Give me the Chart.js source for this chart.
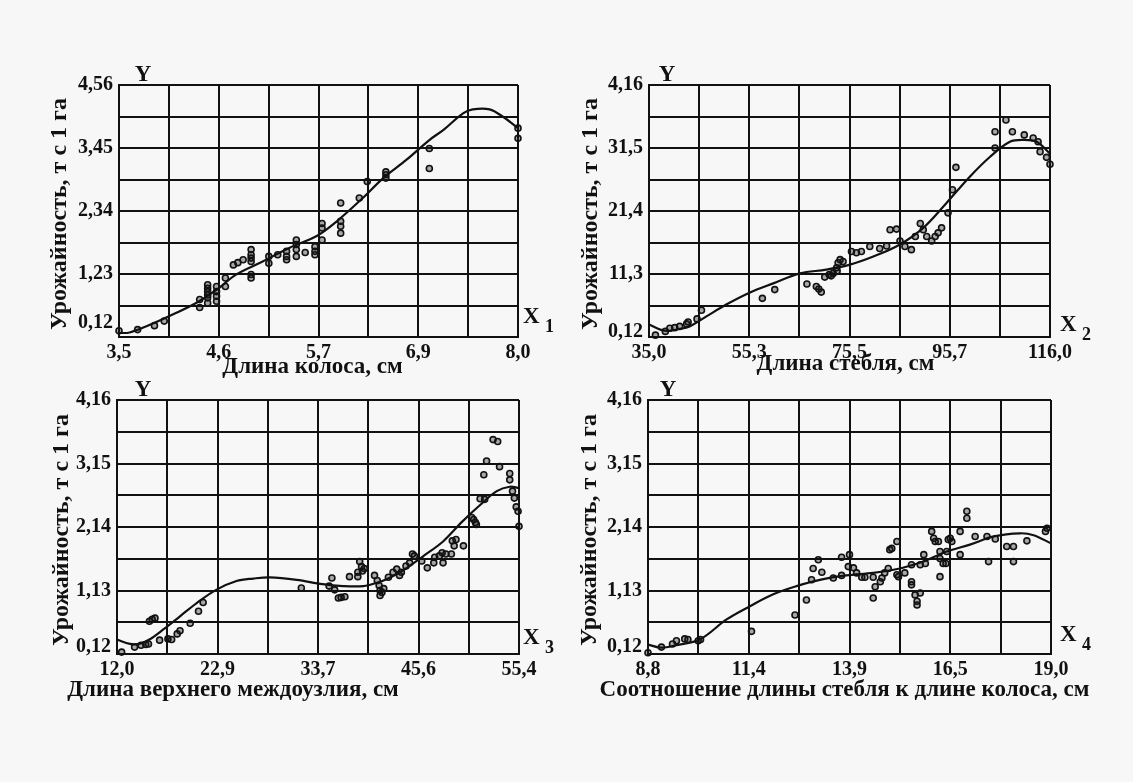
<!DOCTYPE html>
<html>
<head>
<meta charset="utf-8">
<script src="https://cdn.jsdelivr.net/npm/chart.js@4/dist/chart.umd.min.js"></script>
<style>
  html, body { margin: 0; padding: 0; background: #f7f7f7; }
  body { width: 1133px; height: 782px; position: relative; overflow: hidden; }
  canvas { position: absolute; }
</style>
</head>
<body>
<canvas id="c1" width="566" height="330" style="left:0px;top:60px"></canvas>
<canvas id="c2" width="567" height="330" style="left:566px;top:60px"></canvas>
<canvas id="c3" width="566" height="330" style="left:0px;top:375px"></canvas>
<canvas id="c4" width="567" height="330" style="left:566px;top:375px"></canvas>
<script>
const FONT = "'Liberation Serif', 'DejaVu Serif', serif";
const INK = '#111';

const yTitle = 'Урожайность, т с 1 га';

// ---- X1: длина колоса
const p1XLabels = ['3,5', '', '4,6', '', '5,7', '', '6,9', '', '8,0'];
const p1YLabels = ['0,12', '', '1,23', '', '2,34', '', '3,45', '', '4,56'];
const p1PointX = [3.50, 3.71, 3.90, 4.01, 4.41, 4.41, 4.50, 4.50, 4.50, 4.50, 4.50, 4.50, 4.60, 4.60, 4.60, 4.60,
  4.70, 4.70, 4.79, 4.84, 4.90, 4.99, 4.99, 4.99, 4.99, 4.99, 4.99, 5.19, 5.19, 5.29, 5.39, 5.39, 5.39,
  5.50, 5.50, 5.50, 5.50, 5.60, 5.71, 5.71, 5.71, 5.79, 5.79, 5.79, 6.00, 6.00, 6.00, 6.00, 6.21, 6.30,
  6.51, 6.51, 6.51, 7.00, 7.00, 8.00, 8.00];
const p1PointY = [0.23, 0.25, 0.32, 0.40, 0.64, 0.78, 1.04, 0.98, 0.92, 0.86, 0.81, 0.72, 1.01, 0.92, 0.84, 0.75,
  1.16, 1.01, 1.39, 1.43, 1.48, 1.66, 1.57, 1.51, 1.45, 1.22, 1.16, 1.54, 1.42, 1.57, 1.63, 1.54, 1.48,
  1.83, 1.75, 1.66, 1.54, 1.61, 1.71, 1.63, 1.57, 2.12, 2.04, 1.83, 2.48, 2.16, 2.07, 1.95, 2.57, 2.86,
  3.03, 2.98, 2.92, 3.44, 3.09, 3.80, 3.62];
const p1CurveX = [3.5, 3.62, 3.81, 4.07, 4.37, 4.60, 4.82, 5.12, 5.42, 5.73, 5.95, 6.25, 6.48, 6.74, 7.0, 7.16, 7.38, 7.49, 7.68, 7.83, 8.0];
const p1CurveY = [0.19, 0.20, 0.31, 0.49, 0.72, 0.95, 1.22, 1.45, 1.69, 1.90, 2.15, 2.57, 2.92, 3.24, 3.59, 3.77, 4.06, 4.13, 4.13, 4.00, 3.80];

// ---- X2: длина стебля
const p2XLabels = ['35,0', '', '55,3', '', '75,5', '', '95,7', '', '116,0'];
const p2YLabels = ['0,12', '', '11,3', '', '21,4', '', '31,5', '', '4,16'];
const p2PointX = [36.3, 38.3, 39.2, 40.2, 41.2, 42.6, 42.9, 44.7, 45.6, 57.9, 60.4, 66.9, 68.8, 69.3, 69.8,
  70.5, 71.4, 72.2, 72.9, 73.2, 73.6, 74.2, 73.0, 71.8, 75.9, 76.9, 77.9, 79.6, 81.6, 83.0, 83.7, 85.0, 85.7, 86.7, 88.0,
  88.8, 89.8, 90.4, 91.1, 92.1, 92.8, 93.4, 94.1, 95.4, 96.3, 97.0,
  104.9, 104.9, 107.1, 108.4, 110.8, 112.6, 113.6, 114.0, 115.3, 116.0];
const p2PointY = [0.15, 0.21, 0.26, 0.27, 0.29, 0.33, 0.36, 0.41, 0.55, 0.74, 0.88, 0.97, 0.93, 0.89, 0.84,
  1.08, 1.12, 1.14, 1.23, 1.31, 1.36, 1.33, 1.18, 1.10, 1.49, 1.47, 1.49, 1.57, 1.54, 1.58, 1.84, 1.85, 1.66, 1.57, 1.52,
  1.73, 1.94, 1.84, 1.73, 1.66, 1.73, 1.79, 1.87, 2.11, 2.48, 2.84,
  3.41, 3.15, 3.60, 3.41, 3.36, 3.31, 3.25, 3.09, 3.00, 2.89];
const p2CurveX = [35, 38.2, 41.2, 43.2, 46.6, 50.6, 55.3, 60.1, 65.5, 70.8, 75.6, 80.3, 85.6, 90.4, 95.1, 99.8, 103.9, 107.9, 110.6, 113.3, 116];
const p2CurveY = [0.32, 0.22, 0.25, 0.29, 0.45, 0.64, 0.83, 0.98, 1.14, 1.20, 1.28, 1.41, 1.60, 1.87, 2.27, 2.69, 3.01, 3.25, 3.28, 3.25, 3.06];

// ---- X3: длина верхнего междоузлия
const p3XLabels = ['12,0', '', '22,9', '', '33,7', '', '45,6', '', '55,4'];
const p3YLabels = ['0,12', '', '1,13', '', '2,14', '', '3,15', '', '4,16'];
const p3PointX = [12.5, 13.9, 14.6, 15.1, 15.4, 15.5, 15.8, 16.1, 16.6, 17.5, 17.9, 18.5, 18.8, 19.9, 20.8, 21.3,
  31.9, 34.9, 35.2, 35.5, 35.9, 36.2, 36.6, 37.1, 38.0, 38.2, 38.4, 38.7, 38.0, 38.5, 39.8, 40.1, 40.3, 40.4, 40.6,
  40.4, 40.8, 41.3, 41.8, 42.2, 42.5, 42.7, 43.2, 43.6, 43.9, 44.1, 44.9, 45.5, 46.2, 46.3, 46.8, 47.2, 47.1, 47.5,
  48.1, 48.4, 48.2, 48.6, 49.4, 50.3, 50.7, 50.8, 50.5, 51.2, 51.7, 51.6, 51.9, 52.6, 53.1, 53.3, 54.4, 54.4, 54.7,
  54.9, 55.1, 55.3, 55.4];
const p3PointY = [0.15, 0.23, 0.26, 0.27, 0.28, 0.64, 0.67, 0.69, 0.34, 0.36, 0.35, 0.44, 0.49, 0.61, 0.80, 0.94,
  1.17, 1.20, 1.33, 1.14, 1.01, 1.02, 1.03, 1.35, 1.35, 1.59, 1.51, 1.48, 1.42, 1.44, 1.37, 1.29, 1.21, 1.13, 1.10,
  1.05, 1.16, 1.34, 1.42, 1.47, 1.37, 1.42, 1.52, 1.57, 1.71, 1.68, 1.60, 1.49, 1.57, 1.66, 1.68, 1.57, 1.73, 1.71,
  1.71, 1.84, 1.92, 1.94, 1.84, 2.29, 2.21, 2.18, 2.26, 2.59, 2.58, 2.97, 3.19, 3.53, 3.50, 3.10, 2.99, 2.89, 2.71,
  2.60, 2.46, 2.39, 2.15];
const p3CurveX = [12.0, 13.4, 14.4, 15.5, 17.0, 18.8, 20.6, 22.7, 24.9, 26.7, 28.5, 31.4, 34.2, 36.4, 38.6, 40.0, 41.4, 43.2, 45.0, 47.2, 49.3, 51.2, 53.0, 54.4, 55.4];
const p3CurveY = [0.35, 0.28, 0.28, 0.35, 0.51, 0.72, 0.93, 1.14, 1.28, 1.32, 1.34, 1.30, 1.23, 1.20, 1.20, 1.25, 1.33, 1.48, 1.67, 1.91, 2.23, 2.49, 2.71, 2.78, 2.76];

// ---- X4: соотношение длины стебля к длине колоса
const p4XLabels = ['8,8', '', '11,4', '', '13,9', '', '16,5', '', '19,0'];
const p4YLabels = ['0,12', '', '1,13', '', '2,14', '', '3,15', '', '4,16'];
const p4PointX = [8.80, 9.14, 9.42, 9.52, 9.73, 9.81, 10.07, 10.13, 11.42, 12.52, 12.81, 12.94, 12.98, 13.11, 13.20,
  13.49, 13.70, 13.70, 13.90, 13.87, 14.00, 14.08, 14.21, 14.29, 14.50, 14.50, 14.55, 14.68, 14.72, 14.79, 14.88,
  14.92, 14.97, 15.10, 15.10, 15.14, 15.30, 15.47, 15.47, 15.47, 15.56, 15.61, 15.61, 15.69, 15.69, 15.78, 15.82,
  15.98, 16.03, 16.07, 16.15, 16.19, 16.19, 16.19, 16.27, 16.34, 16.36, 16.40, 16.45, 16.49, 16.70, 16.70, 16.87,
  16.87, 17.08, 17.38, 17.42, 17.59, 17.88, 18.05, 18.05, 18.39, 18.86, 18.90];
const p4PointY = [0.14, 0.23, 0.28, 0.33, 0.36, 0.35, 0.33, 0.35, 0.48, 0.74, 0.98, 1.30, 1.48, 1.62, 1.42,
  1.33, 1.37, 1.66, 1.70, 1.51, 1.49, 1.41, 1.34, 1.34, 1.34, 1.01, 1.19, 1.27, 1.33, 1.41, 1.48,
  1.78, 1.80, 1.91, 1.38, 1.35, 1.41, 1.54, 1.27, 1.22, 1.06, 0.96, 0.90, 1.09, 1.54, 1.70, 1.56,
  2.07, 1.96, 1.91, 1.91, 1.64, 1.75, 1.35, 1.56, 1.56, 1.75, 1.94, 1.96, 1.91, 2.07, 1.70, 2.39,
  2.28, 1.99, 1.99, 1.59, 1.95, 1.83, 1.83, 1.59, 1.92, 2.07, 2.12];
const p4CurveX = [8.8, 9.14, 9.52, 10.11, 10.79, 11.38, 11.97, 12.56, 13.15, 13.82, 14.50, 15.18, 15.77, 16.36, 16.95, 17.55, 18.22, 18.56, 19.0];
const p4CurveY = [0.27, 0.22, 0.26, 0.35, 0.67, 0.88, 1.07, 1.20, 1.30, 1.37, 1.41, 1.48, 1.59, 1.75, 1.86, 1.99, 2.04, 2.01, 1.88];

function pairs(xs, ys) {
  return xs.map((x, i) => ({ x: x, y: ys[i] }));
}

function gridValues(min, max) {
  let out = [];
  for (let i = 0; i <= 8; i++) out.push(min + (max - min) * i / 8);
  return out;
}

function makePanel(id, p) {
  const xTicks = gridValues(p.xMin, p.xMax);
  const yTicks = gridValues(p.yMin, p.yMax);
  const tickFont = { family: FONT, size: 20, weight: 'bold' };

  const decor = {
    id: 'decor' + id,
    afterDraw(chart) {
      const a = chart.chartArea;
      const ctx = chart.ctx;
      ctx.save();
      ctx.fillStyle = INK;
      // bottom y label, lifted a little above the corner
      ctx.font = 'bold 20px ' + FONT;
      ctx.textAlign = 'right';
      ctx.textBaseline = 'middle';
      ctx.fillText(p.yLabels[0], a.left - 6, a.bottom - p.bottomLift);
      // Y over the axis
      ctx.font = 'bold 23px ' + FONT;
      ctx.textAlign = 'center';
      ctx.textBaseline = 'middle';
      ctx.fillText('Y', a.left + p.yLetterDx, a.top - 10);
      // X with subscript
      ctx.textAlign = 'left';
      ctx.fillText('X', a.right + p.xLetterDx, a.bottom + p.xLetterDy);
      ctx.font = 'bold 18px ' + FONT;
      ctx.fillText(p.sub, a.right + p.xLetterDx + 22, a.bottom + p.xLetterDy + 10);
      // x title
      ctx.font = 'bold 23px ' + FONT;
      ctx.textAlign = 'center';
      ctx.fillText(p.xTitle, (a.left + a.right) / 2 + p.xTitleDx, a.bottom + p.xTitleDy);
      // y title
      ctx.font = 'bold 24px ' + FONT;
      ctx.translate(a.left + p.yTitleDx, (a.top + a.bottom) / 2 + 3);
      ctx.rotate(-Math.PI / 2);
      ctx.fillText(yTitle, 0, 0);
      ctx.restore();
    }
  };

  return new Chart(document.getElementById(id), {
    type: 'scatter',
    data: {
      datasets: [
        {
          data: pairs(p.curveX, p.curveY),
          showLine: true,
          tension: 0.35,
          borderColor: INK,
          borderWidth: 2.2,
          pointRadius: 0,
          clip: 4
        },
        {
          data: pairs(p.pointX, p.pointY),
          pointRadius: 3,
          borderColor: INK,
          borderWidth: 1.6,
          backgroundColor: 'rgba(20,20,20,0.35)',
          clip: 8
        }
      ]
    },
    options: {
      responsive: false,
      animation: false,
      events: [],
      layout: { padding: { top: p.padTop, right: p.padRight, left: 0, bottom: 0 } },
      plugins: { legend: { display: false }, tooltip: { enabled: false } },
      scales: {
        x: {
          type: 'linear',
          min: p.xMin,
          max: p.xMax,
          afterBuildTicks: s => { s.ticks = xTicks.map(v => ({ value: v })); },
          afterFit: s => { s.height = p.xHeight; },
          grid: { color: INK, lineWidth: 2, drawTicks: false },
          border: { color: INK, width: 2 },
          ticks: {
            autoSkip: false, maxRotation: 0, padding: 4, color: INK, font: tickFont,
            callback: (v, i) => p.xLabels[i]
          }
        },
        y: {
          type: 'linear',
          min: p.yMin,
          max: p.yMax,
          afterBuildTicks: s => { s.ticks = yTicks.map(v => ({ value: v })); },
          afterFit: s => { s.width = p.yWidth; },
          grid: { color: INK, lineWidth: 2, drawTicks: false },
          border: { color: INK, width: 2 },
          ticks: {
            autoSkip: false, padding: 6, color: INK, font: tickFont,
            callback: (v, i) => (i === 0 ? '' : p.yLabels[i])
          }
        }
      }
    },
    plugins: [decor]
  });
}

makePanel('c1', {
  xMin: 3.5, xMax: 8.0, yMin: 0.12, yMax: 4.56,
  xLabels: p1XLabels, yLabels: p1YLabels,
  pointX: p1PointX, pointY: p1PointY, curveX: p1CurveX, curveY: p1CurveY,
  yWidth: 119, padTop: 25, padRight: 48, xHeight: 53,
  xTitle: 'Длина колоса, см', xTitleDx: -6, xTitleDy: 30,
  yTitleDx: -59, yLetterDx: 24, xLetterDx: 5, xLetterDy: -20, sub: '1', bottomLift: 14
});

makePanel('c2', {
  xMin: 35.0, xMax: 116.0, yMin: 0.12, yMax: 4.16,
  xLabels: p2XLabels, yLabels: p2YLabels,
  pointX: p2PointX, pointY: p2PointY, curveX: p2CurveX, curveY: p2CurveY,
  yWidth: 83, padTop: 25, padRight: 83, xHeight: 53,
  xTitle: 'Длина стебля, см', xTitleDx: -4, xTitleDy: 27,
  yTitleDx: -58, yLetterDx: 18, xLetterDx: 10, xLetterDy: -12, sub: '2', bottomLift: 5
});

makePanel('c3', {
  xMin: 12.0, xMax: 55.4, yMin: 0.12, yMax: 4.16,
  xLabels: p3XLabels, yLabels: p3YLabels,
  pointX: p3PointX, pointY: p3PointY, curveX: p3CurveX, curveY: p3CurveY,
  yWidth: 117, padTop: 25, padRight: 47, xHeight: 51,
  xTitle: 'Длина верхнего междоузлия, см', xTitleDx: -85, xTitleDy: 36,
  yTitleDx: -55, yLetterDx: 26, xLetterDx: 4, xLetterDy: -16, sub: '3', bottomLift: 7
});

makePanel('c4', {
  xMin: 8.8, xMax: 19.0, yMin: 0.12, yMax: 4.16,
  xLabels: p4XLabels, yLabels: p4YLabels,
  pointX: p4PointX, pointY: p4PointY, curveX: p4CurveX, curveY: p4CurveY,
  yWidth: 82, padTop: 25, padRight: 82, xHeight: 51,
  xTitle: 'Соотношение длины стебля к длине колоса, см', xTitleDx: -5, xTitleDy: 36,
  yTitleDx: -58, yLetterDx: 20, xLetterDx: 9, xLetterDy: -19, sub: '4', bottomLift: 7
});
</script>
</body>
</html>
